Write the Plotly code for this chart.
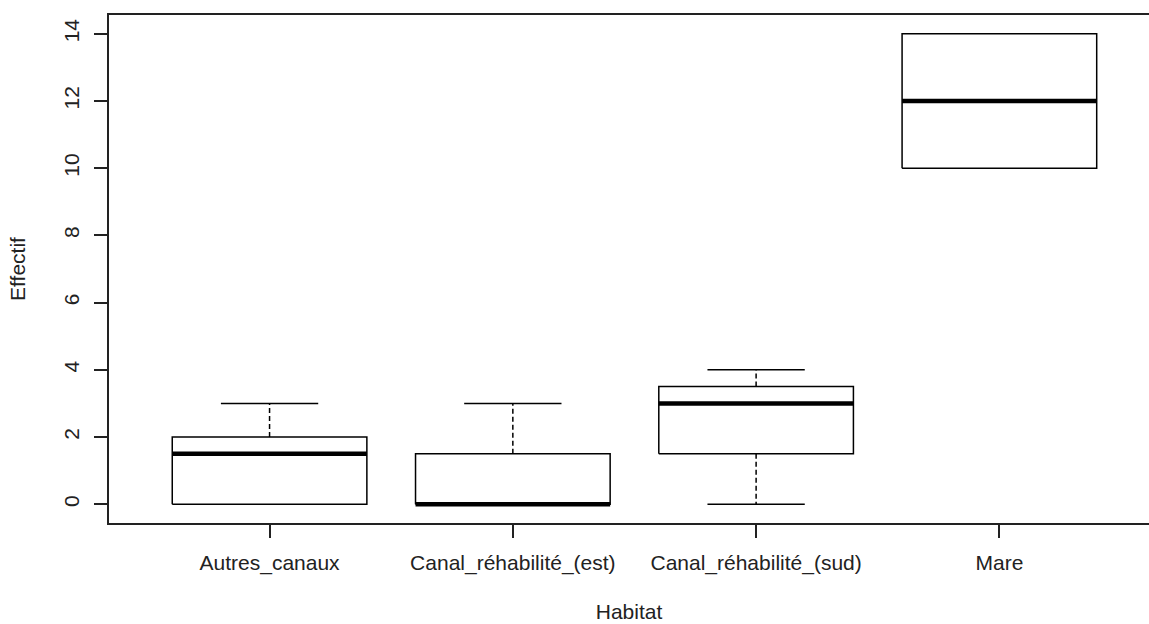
import plotly.graph_objects as go

# Effectifs par habitat : statistiques des boîtes à moustaches
habitats = ["Autres_canaux", "Canal_réhabilité_(est)", "Canal_réhabilité_(sud)", "Mare"]
minimum = [0, 0, 0, 10]
q1 = [0, 0, 1.5, 10]
mediane = [1.5, 0, 3, 12]
q3 = [2, 1.5, 3.5, 14]
maximum = [3, 3, 4, 14]

y_ticks = [0, 2, 4, 6, 8, 10, 12, 14]

BOX_HALF = 0.4
CAP_HALF = 0.2
FONT = "Liberation Sans, Arial, sans-serif"
FS = 21

fig = go.Figure()

wx, wy, cx, cy, bx, by, mx, my = [], [], [], [], [], [], [], []
for i in range(len(habitats)):
    p = i + 1
    # moustaches (pointillés) et embouts, seulement si la moustache a une longueur
    for edge, end in ((q3[i], maximum[i]), (q1[i], minimum[i])):
        if end != edge:
            wx += [p, p, None]
            wy += [edge, end, None]
            cx += [p - CAP_HALF, p + CAP_HALF, None]
            cy += [end, end, None]
    # boîte
    bx += [p - BOX_HALF, p + BOX_HALF, p + BOX_HALF, p - BOX_HALF, p - BOX_HALF, None]
    by += [q1[i], q1[i], q3[i], q3[i], q1[i], None]
    # médiane
    mx += [p - BOX_HALF, p + BOX_HALF, None]
    my += [mediane[i], mediane[i], None]

fig.add_trace(go.Scatter(x=wx, y=wy, mode="lines",
                         line=dict(color="black", width=1.5, dash="5px,3px"),
                         hoverinfo="skip"))
fig.add_trace(go.Scatter(x=cx, y=cy, mode="lines",
                         line=dict(color="black", width=1.5), hoverinfo="skip"))
fig.add_trace(go.Scatter(x=bx, y=by, mode="lines",
                         line=dict(color="black", width=1.5), hoverinfo="skip"))
fig.add_trace(go.Scatter(x=mx, y=my, mode="lines",
                         line=dict(color="black", width=4.5), hoverinfo="skip"))

fig.update_layout(
    width=1149, height=624,
    margin=dict(l=109, r=0, t=15, b=101),
    paper_bgcolor="white", plot_bgcolor="white",
    showlegend=False,
    font=dict(family=FONT, size=FS, color="#222222"),
    xaxis=dict(
        range=[0.34, 4.615],
        tickmode="array", tickvals=[1, 2, 3, 4], ticktext=habitats,
        ticks="outside", ticklen=13, tickwidth=1.5, tickcolor="#222222",
        ticklabelstandoff=7,
        showline=True, linecolor="#222222", linewidth=1.5, mirror=True,
        showgrid=False, zeroline=False,
        tickfont=dict(size=FS),
        title=dict(text="Habitat", standoff=30, font=dict(size=FS)),
    ),
    yaxis=dict(
        range=[-0.56, 14.56],
        tickmode="array", tickvals=y_ticks,
        ticks="outside", ticklen=13, tickwidth=1.5, tickcolor="#222222",
        ticklabelstandoff=7,
        showline=True, linecolor="#222222", linewidth=1.5, mirror=False,
        showgrid=False, zeroline=False,
        tickangle=-90,
        tickfont=dict(size=FS),
        title=dict(text="Effectif", standoff=28, font=dict(size=FS)),
    ),
)

fig.write_html("out.html")
